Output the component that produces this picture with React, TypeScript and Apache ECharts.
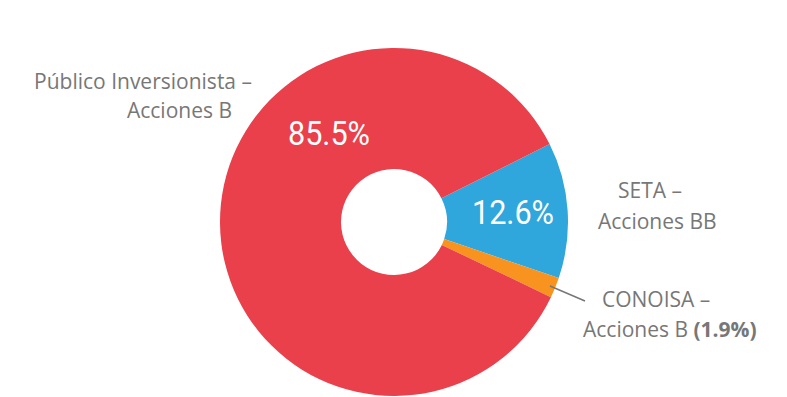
import React, { useEffect, useRef } from "react";
import * as echarts from "echarts";

const categories = ["SETA – Acciones BB", "CONOISA – Acciones B", "Público Inversionista – Acciones B"];
const values = [12.6, 1.9, 85.5];
const colors = ["#2FA6DC", "#F7931E", "#E9404B"];
const percentLabels = ["12.6%", "1.9%", "85.5%"];

export default function App() {
  const ref = useRef<HTMLDivElement>(null);
  useEffect(() => {
    if (!ref.current) return;
    const chart = echarts.init(ref.current, undefined, { renderer: "svg" });
    const grey = "#777777";
    const labelFont = { fontFamily: "Open Sans", fontSize: 21, fill: grey };
    const pctStyle = (text: string) => ({
      text,
      x: 0,
      y: 0,
      align: "center",
      verticalAlign: "middle",
      fontFamily: "Roboto",
      fontSize: 34,
      fill: "#ffffff",
    });
    chart.setOption({
      animation: false,
      backgroundColor: "#ffffff",
      series: [
        {
          type: "pie",
          center: [394, 222],
          radius: [53, 174],
          startAngle: 26.6,
          clockwise: true,
          label: { show: false },
          labelLine: { show: false },
          emphasis: { disabled: true },
          itemStyle: { borderWidth: 0 },
          data: categories.map((name, i) => ({
            name,
            value: values[i],
            itemStyle: { color: colors[i] },
          })),
        },
      ],
      graphic: [
        { type: "text", z: 100, x: 329, y: 133, scaleX: 0.9, style: pctStyle(percentLabels[2]) },
        { type: "text", z: 100, x: 513, y: 212, scaleX: 0.9, style: pctStyle(percentLabels[0]) },
        { type: "text", z: 100, style: { ...labelFont, text: "Público Inversionista –", x: 252, y: 81, align: "right", verticalAlign: "middle" } },
        { type: "text", z: 100, style: { ...labelFont, text: "Acciones B", x: 232, y: 110, align: "right", verticalAlign: "middle" } },
        { type: "text", z: 100, style: { ...labelFont, text: "SETA –", x: 618, y: 190, align: "left", verticalAlign: "middle" } },
        { type: "text", z: 100, style: { ...labelFont, text: "Acciones BB", x: 598, y: 221, align: "left", verticalAlign: "middle" } },
        { type: "text", z: 100, style: { ...labelFont, text: "CONOISA –", x: 602, y: 299, align: "left", verticalAlign: "middle" } },
        {
          type: "text",
          z: 100,
          style: {
            ...labelFont,
            text: "Acciones B {b|(" + percentLabels[1] + ")}",
            rich: { b: { fontFamily: "Open Sans", fontSize: 21, fontWeight: "bold", fill: grey, color: grey } },
            x: 583,
            y: 329,
            align: "left",
            verticalAlign: "middle",
          },
        },
        { type: "line", z: 100, shape: { x1: 550, y1: 286, x2: 585, y2: 301 }, style: { stroke: grey, lineWidth: 1.5 } },
      ],
    });
    return () => chart.dispose();
  }, []);
  return (
    <div
      ref={ref}
      style={{ position: "fixed", left: 0, top: 0, width: 787, height: 397, background: "#fff" }}
    />
  );
}
